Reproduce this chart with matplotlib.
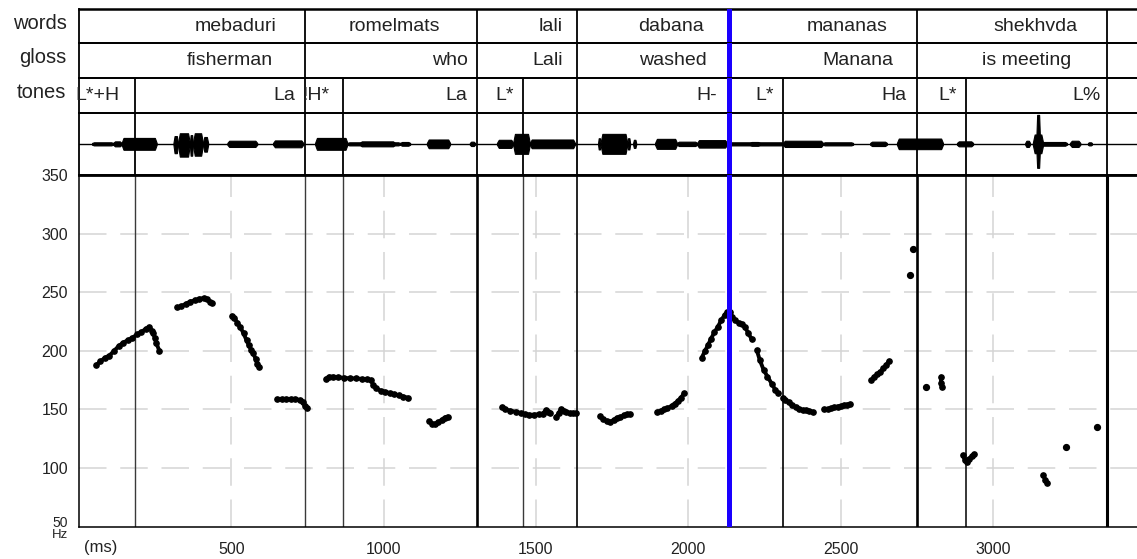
import matplotlib
matplotlib.use('Agg')
import matplotlib.pyplot as plt

plt.rcParams['font.family'] = ['Liberation Sans', 'DejaVu Sans']

# ======= annotation tiers =======
WORDS = ['mebaduri', 'romelmats', 'lali', 'dabana', 'mananas', 'shekhvda']
GLOSS = ['fisherman', 'who', 'Lali', 'washed', 'Manana', 'is meeting']
TONES = ['L*+H', 'La', '!H*', 'La', 'L*', 'H-', 'L*', 'Ha', 'L*', 'L%']
WORD_BOUNDS = [743, 1306, 1636, 2134, 2752, 3375]  # ms
TONE_BOUNDS = [185, 743, 866, 1306, 1459, 1636, 2134, 2312, 2752, 2911, 3375]  # ms
CURSOR_MS = 2134

# ======= F0 track (ms, Hz), one list per voiced stretch =======
PITCH_T = [
    [57, 70, 85, 100, 115, 130, 145, 160, 175, 190, 205, 220, 231, 240, 244, 249, 253, 264],
    [323, 335, 350, 365, 380, 395, 410, 420, 430, 436],
    [502, 510, 520, 530, 540, 550, 557, 565, 572, 580, 585, 590],
    [650, 665, 680, 695, 710, 725, 735, 742, 749],
    [810, 820, 835, 850, 870, 890, 910, 930, 945, 958, 966, 975, 990, 1005, 1020, 1035, 1050, 1065, 1079],
    [1150, 1160, 1170, 1180, 1190, 1200, 1210],
    [1389, 1400, 1415, 1434, 1450, 1465, 1478, 1495, 1510, 1522, 1533, 1540, 1546],
    [1566, 1575, 1583, 1592, 1600, 1611, 1622, 1633],
    [1710, 1720, 1732, 1743, 1755, 1766, 1776, 1790, 1800, 1810],
    [1898, 1910, 1920, 1931, 1945, 1955, 1965, 1976, 1987],
    [2044, 2055, 2065, 2075, 2086, 2097, 2108, 2119, 2128, 2136, 2145, 2155, 2165, 2175, 2186, 2197, 2208],
    [2225, 2235, 2247, 2260, 2274, 2285, 2296],
    [2312, 2319, 2330, 2341, 2352, 2365, 2375, 2385, 2397, 2409],
    [2447, 2460, 2470, 2480, 2490, 2500, 2510, 2520, 2530],
    [2601, 2610, 2620, 2630, 2640, 2650, 2659],
    [2829, 2830, 2832],
    [2901, 2908, 2914, 2922, 2930, 2938],
    [3165, 3172, 3178],
]
PITCH_HZ = [
    [188, 191, 194, 196, 200, 204, 207, 209, 211, 214, 216, 219, 220, 217, 215, 211, 207, 200],
    [237, 238, 240, 242, 243, 244.5, 245, 244, 242, 241],
    [230, 228, 224, 220, 215, 209, 205, 201, 198, 193, 189, 186],
    [159, 159, 159, 159, 159, 158, 156, 153, 151],
    [176, 178, 178, 177.5, 177, 176.5, 176.5, 176, 176, 175, 171, 168, 166, 165, 164, 163, 162, 161, 160],
    [140, 138, 138, 139, 141, 143, 144],
    [152, 150, 149, 148, 147, 146, 145.5, 145.5, 146, 146.5, 149.5, 148, 147],
    [143.5, 147, 150.5, 149, 147.5, 147, 147, 147],
    [144.5, 142, 140, 139, 141, 143, 143.5, 145, 146, 146],
    [148, 149, 150, 151, 153, 155, 157, 160, 164],
    [194, 200, 205, 210.5, 216, 220.5, 226, 230.5, 233, 233.5, 229, 226, 224, 223, 220.5, 215, 210],
    [200.5, 192, 184, 178, 172, 167, 164],
    [160, 158, 156, 153.5, 152, 150.5, 149.5, 149.5, 149, 148],
    [150, 150.5, 151, 152, 152.5, 153, 153.5, 154, 154.5],
    [175, 178, 180, 182, 185, 188, 191.5],
    [178, 173, 169],
    [111, 107, 105.5, 108, 110, 112],
    [94, 90, 87],
]
# isolated F0 points
LONE_T = [2727, 2738, 2782, 3241, 3343]
LONE_HZ = [264.5, 286.7, 169.4, 117.7, 135.3]

# ======= waveform envelope (ms, relative amplitude up / down) =======
WAVE_START = [43, 112, 140, 310, 325, 364, 374, 407, 487, 637, 775, 881, 922, 1054, 1142, 1283,
              1372, 1425, 1480, 1704, 1712, 1800, 1819, 1891, 1963, 2029, 2127, 2202, 2311, 2442,
              2597, 2685, 2882, 3106, 3131, 3142, 3161, 3253, 3312]
WAVE_END = [112, 140, 255, 325, 364, 374, 407, 424, 585, 736, 881, 1054, 1037, 1087, 1218, 1300,
            1425, 1480, 1628, 1712, 1800, 1809, 1829, 1963, 2029, 2127, 2311, 2235, 2442, 2541,
            2652, 2836, 2935, 3122, 3165, 3155, 3243, 3287, 3325]
WAVE_UP = [0.05, 0.08, 0.19, 0.25, 0.34, 0.28, 0.34, 0.22, 0.10, 0.11, 0.19, 0.05, 0.08, 0.06, 0.14, 0.07,
           0.13, 0.32, 0.14, 0.18, 0.32, 0.18, 0.13, 0.16, 0.07, 0.12, 0.05, 0.06, 0.10, 0.05,
           0.07, 0.17, 0.08, 0.10, 0.30, 0.93, 0.06, 0.10, 0.05]
WAVE_DOWN = [0.05, 0.08, 0.19, 0.30, 0.41, 0.38, 0.38, 0.25, 0.10, 0.11, 0.19, 0.05, 0.08, 0.06, 0.14, 0.07,
             0.13, 0.32, 0.14, 0.18, 0.32, 0.18, 0.13, 0.16, 0.07, 0.12, 0.05, 0.06, 0.10, 0.05,
             0.07, 0.17, 0.08, 0.10, 0.30, 0.77, 0.06, 0.10, 0.05]

# ======= layout =======
W_PX, H_PX = 1137, 559
LEFT_PX = 79
T_MAX = 3473
WORD_X = [513, 1036, 1547, 1942, 2523, 3139]
GLOSS_X = [495, 1219, 1538, 1949, 2556, 3110]
TONE_X = [62, 674, 779, 1238, 1398, 2062, 2249, 2676, 2850, 3306]
# boundary line weights inside the F0 panel
PITCH_LW = [1.0, 1.0, 1.0, 1.9, 1.0, 1.2, None, 1.2, 1.9, 1.1, 2.2]
PITCH_LC = ['#3a3a3a', '#3a3a3a', '#3a3a3a', 'black', '#3a3a3a', 'black', None,
            'black', 'black', 'black', 'black']
TXT = '#222222'
BLUE = '#1a00ff'


def add_panel(fig, top_px, bottom_px):
    rect = [LEFT_PX / W_PX, 1 - bottom_px / H_PX,
            (W_PX - LEFT_PX) / W_PX, (bottom_px - top_px) / H_PX]
    ax = fig.add_axes(rect)
    ax.set_xlim(0, T_MAX)
    ax.set_xticks([])
    ax.set_yticks([])
    ax.spines['right'].set_visible(False)
    for side in ('top', 'bottom', 'left'):
        ax.spines[side].set_linewidth(1.3)
        ax.spines[side].set_color('black')
    ax.patch.set_alpha(0)
    return ax


def draw_tier(ax, labels, xs, bounds, name):
    ax.set_ylim(0, 1)
    for b in bounds:
        if b == CURSOR_MS:
            continue
        ax.axvline(b, color='black', lw=1.3)
    ax.axvline(CURSOR_MS, color=BLUE, lw=3.6, zorder=5)
    tr = ax.get_xaxis_transform()
    for lab, x in zip(labels, xs):
        ax.text(x, 0.48, lab, transform=tr, ha='center', va='center',
                fontsize=14, color=TXT, clip_on=False)
    ax.text(-41, 0.58, name, ha='right', va='center', fontsize=14.5, color=TXT,
            transform=tr, clip_on=False)


fig = plt.figure(figsize=(W_PX / 100, H_PX / 100), dpi=100)

ax_w = add_panel(fig, 9.3, 42.7)
ax_w.spines['top'].set_linewidth(1.8)
draw_tier(ax_w, WORDS, WORD_X, WORD_BOUNDS, 'words')

ax_g = add_panel(fig, 42.7, 77.7)
draw_tier(ax_g, GLOSS, GLOSS_X, WORD_BOUNDS, 'gloss')

ax_t = add_panel(fig, 77.7, 112.7)
draw_tier(ax_t, TONES, TONE_X, TONE_BOUNDS, 'tones')

# waveform strip: each burst drawn as a tapered envelope
ax_s = add_panel(fig, 112.7, 175)
ax_s.set_ylim(-1, 1)
ax_s.axhline(0, color='black', lw=1.0)
for s, e, up, dn in zip(WAVE_START, WAVE_END, WAVE_UP, WAVE_DOWN):
    d = min(6, (e - s) * 0.25)
    xs = [s, s + d, e - d, e]
    ax_s.fill_between(xs, [-0.03, -dn, -dn, -0.03], [0.03, up, up, 0.03],
                      color='black', lw=0.8, edgecolor='black')
for b in TONE_BOUNDS:
    if b != CURSOR_MS:
        ax_s.axvline(b, color='black', lw=1.3)
ax_s.axvline(CURSOR_MS, color=BLUE, lw=3.6, zorder=5)

# F0 panel
ax_p = add_panel(fig, 175, 526.7)
ax_p.set_ylim(50, 350)
ax_p.spines['top'].set_linewidth(2.0)
ax_p.spines['bottom'].set_linewidth(1.1)
ax_p.spines['left'].set_linewidth(1.1)
ax_p.set_yticks([100, 150, 200, 250, 300, 350])
ax_p.set_xticks([500, 1000, 1500, 2000, 2500, 3000])
ax_p.tick_params(axis='y', length=0, pad=8, labelsize=11.5, labelcolor=TXT)
ax_p.tick_params(axis='x', length=0, pad=11, labelsize=11.5, labelcolor=TXT)
ax_p.grid(True, color='#d4d4d4', lw=1.1, dashes=(18, 9))
ax_p.set_axisbelow(True)

for b, lw, lc in zip(TONE_BOUNDS, PITCH_LW, PITCH_LC):
    if b == CURSOR_MS:
        continue
    ax_p.axvline(b, color=lc, lw=lw, zorder=2)
ax_p.axvline(CURSOR_MS, color=BLUE, lw=3.6, zorder=5)

for ts, hz in zip(PITCH_T, PITCH_HZ):
    ax_p.plot(ts, hz, '-o', color='black', lw=2.8, ms=3.8, zorder=4,
              solid_capstyle='round')
ax_p.plot(LONE_T, LONE_HZ, 'o', color='black', ms=4.2, zorder=4)

# unit marks at the lower left corner
ax_p.text(-37, 53.5, '50', ha='right', va='center', fontsize=10, color=TXT, clip_on=False)
ax_p.text(-37, 42.5, 'Hz', ha='right', va='center', fontsize=9.5, color=TXT, clip_on=False)
ax_p.text(70, 32.5, '(ms)', ha='center', va='center', fontsize=12, color=TXT, clip_on=False)

fig.savefig('out.png', dpi=100)
